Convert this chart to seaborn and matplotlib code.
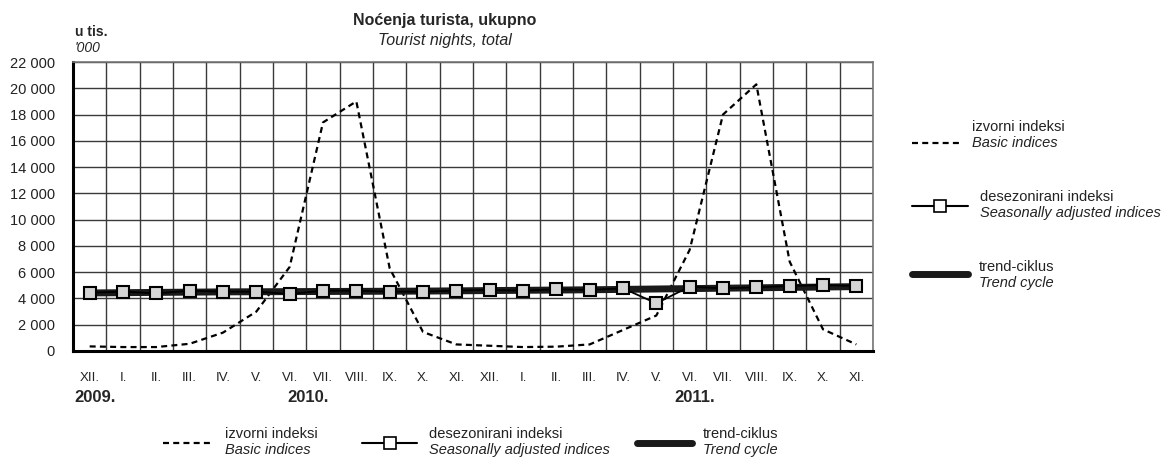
import numpy as np
import pandas as pd
import matplotlib
matplotlib.use('Agg')
import matplotlib.pyplot as plt
import seaborn as sns
from matplotlib.lines import Line2D
import matplotlib.transforms as mtrans

sns.set_style('white')
plt.rcParams['font.family'] = ['Liberation Sans', 'DejaVu Sans']

# mjeseci XII. 2009 - XI. 2011
months = ['XII.', 'I.', 'II.', 'III.', 'IV.', 'V.', 'VI.', 'VII.', 'VIII.', 'IX.', 'X.', 'XI.',
          'XII.', 'I.', 'II.', 'III.', 'IV.', 'V.', 'VI.', 'VII.', 'VIII.', 'IX.', 'X.', 'XI.']
years = ['2009.', '2010.', '2011.']
year_pos = [0.15, 6.55, 18.15]

basic = [350, 300, 300, 550, 1400, 3000, 6400, 17400, 19000, 6300, 1450, 500,
         400, 300, 330, 500, 1600, 2700, 7700, 18000, 20300, 6800, 1650, 500]
seas_adj = [4440, 4520, 4390, 4590, 4520, 4520, 4340, 4590, 4590, 4520, 4520, 4590,
            4650, 4590, 4700, 4650, 4770, 3630, 4900, 4770, 4850, 4950, 5020, 4950]
trend = [4420, 4440, 4460, 4480, 4500, 4510, 4520, 4530, 4540, 4550, 4560, 4580,
         4600, 4620, 4640, 4660, 4690, 4720, 4750, 4780, 4810, 4840, 4870, 4900]

df = pd.DataFrame({'pos': np.arange(len(months)), 'basic': basic,
                   'seas': seas_adj, 'trend': trend})

DASH = (0, (2.7, 1.9))

fig = plt.figure(figsize=(11.62, 4.57), dpi=100)
ax = fig.add_axes([73/1162, 1-351/457, 800/1162, 289/457])

# mreza
for k in range(len(months)+1):
    ax.axvline(k-0.5, color='#3a3a3a', lw=1, zorder=0)
for v in range(0, 22001, 2000):
    ax.axhline(v, color='#3a3a3a', lw=1, zorder=0)

sns.lineplot(data=df, x='pos', y='basic', ax=ax, color='black', lw=1.6,
             ls=DASH, zorder=3)
sns.lineplot(data=df, x='pos', y='trend', ax=ax, color='#1a1a1a', lw=5, zorder=4)
sns.lineplot(data=df, x='pos', y='seas', ax=ax, color='black', lw=1.3, marker='s',
             markersize=9, markerfacecolor='#d4d4d4', markeredgecolor='black',
             markeredgewidth=1.5, zorder=5)

ax.set_xlim(-0.5, len(months)-0.5)
ax.set_ylim(0, 22000)
ax.set_xticks(df['pos'])
ax.set_xticklabels(months, fontsize=9.5, color='#222222')
ax.set_yticks(range(0, 22001, 2000))
ax.set_yticklabels([f'{v:,}'.replace(',', ' ') for v in range(0, 22001, 2000)],
                   fontsize=10.5, color='#222222')
ax.tick_params(axis='x', length=0, pad=15)
ax.tick_params(axis='y', length=0, pad=13)
ax.set_xlabel('')
ax.set_ylabel('')
for s in ['top', 'right']:
    ax.spines[s].set_color('#777777')
    ax.spines[s].set_linewidth(1.2)
for s in ['left', 'bottom']:
    ax.spines[s].set_color('black')
    ax.spines[s].set_linewidth(2.2)

trans = mtrans.blended_transform_factory(ax.transData, ax.transAxes)
for yl, yp in zip(years, year_pos):
    ax.text(yp, -(397-351)/289, yl, transform=trans, ha='center', va='center',
            fontsize=12, fontweight='bold')

fig.text(445/1162, 1-20/457, 'Noćenja turista, ukupno', ha='center', va='center',
         fontsize=11.5, fontweight='bold')
fig.text(445/1162, 1-40/457, 'Tourist nights, total', ha='center', va='center',
         fontsize=11.5, style='italic')
fig.text(75/1162, 1-32/457, 'u tis.', ha='left', va='center', fontsize=10, fontweight='bold')
fig.text(75/1162, 1-48/457, "'000", ha='left', va='center', fontsize=10, style='italic')


def legend_entry(x0, x1, y, tx, ty1, ty2, kind, l1, l2):
    W, H = 1162, 457
    if kind == 'basic':
        ln = Line2D([x0/W, x1/W], [1-y/H, 1-y/H], color='black', lw=1.6, ls=DASH)
        fig.add_artist(ln)
    elif kind == 'seas':
        ln = Line2D([x0/W, x1/W], [1-y/H, 1-y/H], color='black', lw=1.5)
        fig.add_artist(ln)
        mk = Line2D([(x0+x1)/2/W], [1-y/H], marker='s', markersize=9, color='black',
                    markerfacecolor='white', markeredgewidth=1.2)
        fig.add_artist(mk)
    else:
        ln = Line2D([x0/W, x1/W], [1-y/H, 1-y/H], color='#1a1a1a', lw=5)
        fig.add_artist(ln)
    fig.text(tx/W, 1-ty1/H, l1, ha='left', va='center', fontsize=10.5, color='#222222')
    fig.text(tx/W, 1-ty2/H, l2, ha='left', va='center', fontsize=10.5, style='italic',
             color='#222222')


labels = [('izvorni indeksi', 'Basic indices'),
          ('desezonirani indeksi', 'Seasonally adjusted indices'),
          ('trend-ciklus', 'Trend cycle')]

# desna legenda
legend_entry(912, 963, 143, 972, 127, 143, 'basic', *labels[0])
legend_entry(912, 968, 206, 980, 197, 213, 'seas', *labels[1])
legend_entry(912, 968, 274, 979, 267, 283, 'trend', *labels[2])
# donja legenda
legend_entry(163, 213, 443, 225, 434, 450, 'basic', *labels[0])
legend_entry(362, 417, 443, 429, 434, 450, 'seas', *labels[1])
legend_entry(637, 692, 443, 703, 434, 450, 'trend', *labels[2])

fig.savefig('out.png', dpi=100)
